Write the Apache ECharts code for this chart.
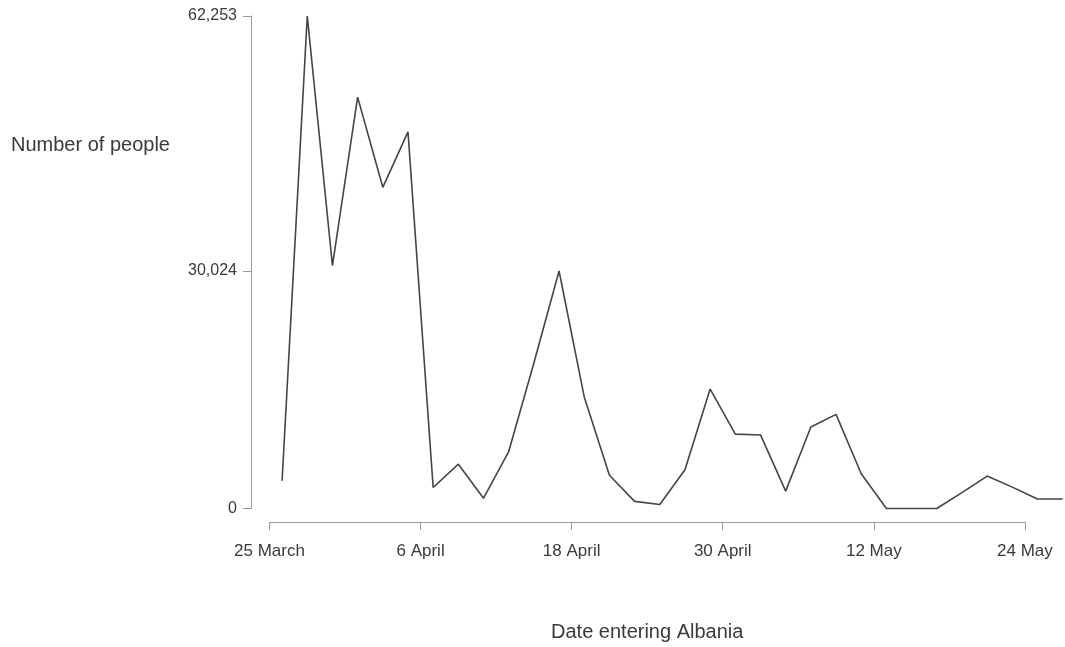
<!DOCTYPE html>
<html>
<head>
<meta charset="utf-8">
<script src="https://cdn.jsdelivr.net/npm/echarts@6/dist/echarts.min.js"></script>
<style>
  html, body { margin: 0; padding: 0; background: #fff; }
  #chart { width: 1065px; height: 647px; }
</style>
</head>
<body>
<div id="chart"></div>
<script>
// ---- Data (Kosovo refugees entering Albania, 1999) ----
const startDate = '1999-03-25';
const dates = [
  '1999-03-26','1999-03-28','1999-03-30','1999-04-01','1999-04-03','1999-04-05',
  '1999-04-07','1999-04-09','1999-04-11','1999-04-13','1999-04-15','1999-04-17',
  '1999-04-19','1999-04-21','1999-04-23','1999-04-25','1999-04-27','1999-04-29',
  '1999-05-01','1999-05-03','1999-05-05','1999-05-07','1999-05-09','1999-05-11',
  '1999-05-13','1999-05-15','1999-05-17','1999-05-19','1999-05-21','1999-05-23',
  '1999-05-25','1999-05-27'
];
const people = [
  3500, 62253, 30700, 52000, 40600, 47600,
  2650, 5600, 1300, 7200, 18400, 30024,
  14100, 4200, 900, 500, 4900, 15100,
  9400, 9300, 2200, 10300, 11900, 4400,
  0, 0, 0, 2000, 4100, 2700,
  1200, 1200
];
const xTickLabels = ['25 March', '6 April', '18 April', '30 April', '12 May', '24 May'];
const yTickValues = [0, 30024, 62253];
const yTitle = 'Number of people';
const xTitle = 'Date entering Albania';

// ---- Build ----
const DAY = 86400000;
const t0 = Date.parse(startDate + 'T00:00:00Z');
const dayOf = d => Math.round((Date.parse(d + 'T00:00:00Z') - t0) / DAY);
const seriesData = dates.map((d, i) => [dayOf(d), people[i]]);
const lastDay = dayOf(dates[dates.length - 1]);
const tickStep = 12;
const tickMax = tickStep * (xTickLabels.length - 1);

const FONT = 'Liberation Sans';
const TXT = '#3a3a3a';
const AX = '#9a9a9a';

const plotLeft = 269.5, plotTop = 16, plotH = 492.5, pxPerDay = 12.59;

const chart = echarts.init(document.getElementById('chart'), null, { renderer: 'canvas' });
chart.setOption({
  animation: false,
  backgroundColor: '#ffffff',
  grid: [
    { left: plotLeft, top: plotTop, width: pxPerDay * lastDay, height: plotH },
    { left: plotLeft, top: plotTop, width: pxPerDay * tickMax, height: plotH }
  ],
  xAxis: [
    { gridIndex: 0, type: 'value', min: 0, max: lastDay, show: false },
    {
      gridIndex: 1, type: 'value', min: 0, max: tickMax, interval: tickStep,
      position: 'bottom', offset: 18,
      axisLine: { show: true, onZero: false, lineStyle: { color: AX, width: 1 } },
      axisTick: { show: true, length: 8, lineStyle: { color: AX } },
      splitLine: { show: false },
      axisLabel: {
        margin: 21, color: TXT, fontFamily: FONT, fontSize: 17,
        formatter: v => xTickLabels[Math.round(v / tickStep)] || ''
      },
      name: xTitle, nameLocation: 'middle', nameGap: 100,
      nameTextStyle: { color: TXT, fontFamily: FONT, fontSize: 20 }
    }
  ],
  yAxis: [
    {
      gridIndex: 0, type: 'value', min: 0, max: yTickValues[yTickValues.length - 1],
      position: 'left', offset: 18.5,
      axisLine: { show: true, onZero: false, lineStyle: { color: AX, width: 1 } },
      axisTick: { show: true, length: 8, customValues: yTickValues, lineStyle: { color: AX } },
      splitLine: { show: false },
      axisLabel: {
        customValues: yTickValues, margin: 14, color: TXT, fontFamily: FONT, fontSize: 16,
        formatter: v => Number(v).toLocaleString('en-US')
      }
    },
    { gridIndex: 1, type: 'value', min: 0, max: 1, show: false }
  ],
  graphic: [
    {
      type: 'text', left: 11, top: 135,
      style: { text: yTitle, fill: TXT, font: '20px "Liberation Sans"' }
    }
  ],
  series: [
    {
      type: 'line', xAxisIndex: 0, yAxisIndex: 0,
      data: seriesData, showSymbol: false, symbol: 'none',
      lineStyle: { color: '#454545', width: 1.6 },
      clip: false
    }
  ]
});
</script>
</body>
</html>
